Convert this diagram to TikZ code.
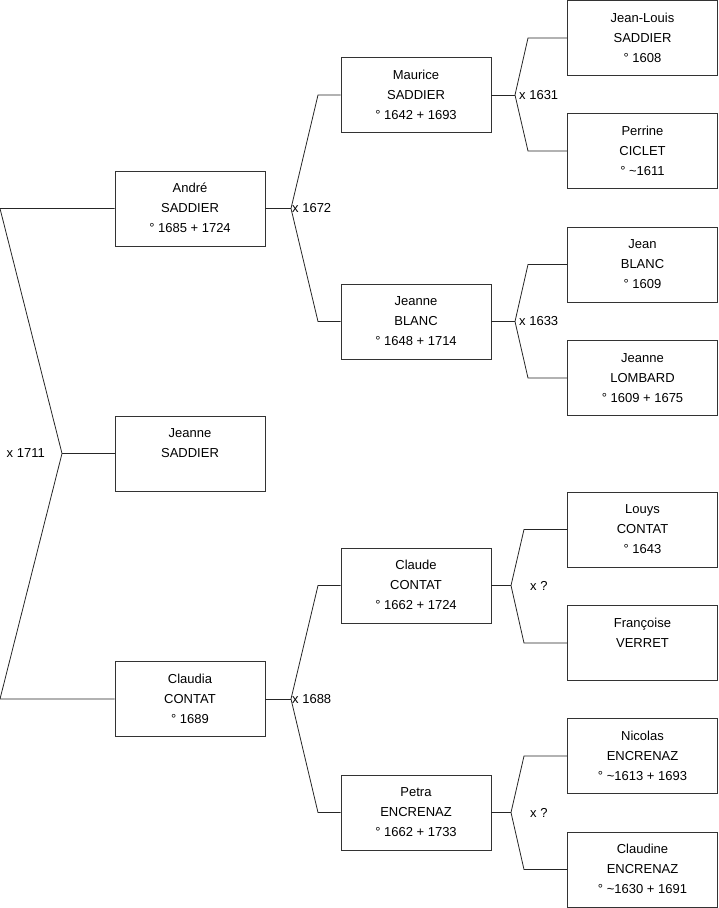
\documentclass[tikz,border=0pt]{standalone}
\usepackage{fontspec}
\setmainfont{Liberation Sans}
\usepackage{tikz}
\usetikzlibrary{positioning}
\newcommand{\fiche}[3]{#1\strut\\#2\strut\\#3\strut}

\begin{document}
\begin{tikzpicture}[
    x=1pt, y=-1pt,
    person/.style={rectangle, draw=black!80, line width=0.8pt,
        minimum width=150pt, minimum height=75pt, inner sep=0pt,
        align=center, font=\fontsize{13}{20}\selectfont},
    link/.style={draw=black!85, line width=0.8pt},
    union/.style={font=\fontsize{13}{20}\selectfont, inner sep=1pt}
]
    \useasboundingbox (0,0) rectangle (719,908);

    % generation 1
    \node[person] (andre) at (190,208.5) {\fiche{André}{SADDIER}{° 1685 + 1724}};
    \node[person] (jeanne) at (190,453.5) {\fiche{Jeanne}{SADDIER}{}};
    \node[person] (claudia) at (190,699) {\fiche{Claudia}{CONTAT}{° 1689}};
    % generation 2
    \node[person] (maurice) at (416,95) {\fiche{Maurice}{SADDIER}{° 1642 + 1693}};
    \node[person] (jeanneb) at (416,321.5) {\fiche{Jeanne}{BLANC}{° 1648 + 1714}};
    \node[person] (claude) at (416,585.5) {\fiche{Claude}{CONTAT}{° 1662 + 1724}};
    \node[person] (petra) at (416,812.5) {\fiche{Petra}{ENCRENAZ}{° 1662 + 1733}};
    % generation 3
    \node[person] (jeanlouis) at (642.5,38) {\fiche{Jean-Louis}{SADDIER}{° 1608}};
    \node[person] (perrine) at (642.5,151) {\fiche{Perrine}{CICLET}{° \textasciitilde1611}};
    \node[person] (jean) at (642.5,264.5) {\fiche{Jean}{BLANC}{° 1609}};
    \node[person] (jeannel) at (642.5,378) {\fiche{Jeanne}{LOMBARD}{° 1609 + 1675}};
    \node[person] (louys) at (642.5,529.5) {\fiche{Louys}{CONTAT}{° 1643}};
    \node[person] (francoise) at (642.5,643) {\fiche{Françoise}{VERRET}{}};
    \node[person] (nicolas) at (642.5,756) {\fiche{Nicolas}{ENCRENAZ}{° \textasciitilde1613 + 1693}};
    \node[person] (claudine) at (642.5,869.5) {\fiche{Claudine}{ENCRENAZ}{° \textasciitilde1630 + 1691}};

    % unions
    \coordinate (v0) at (62,453.5);
    \coordinate (v0a) at (0,208.5);
    \coordinate (v0b) at (0,699);
    \coordinate (v1) at (291,208.5);
    \coordinate (v1a) at (318,95);
    \coordinate (v1b) at (318,321.5);
    \coordinate (v2) at (291,699);
    \coordinate (v2a) at (318,585.5);
    \coordinate (v2b) at (318,812.5);
    \coordinate (v3) at (515,95);
    \coordinate (v3a) at (528,38);
    \coordinate (v3b) at (528,151);
    \coordinate (v4) at (515,321.5);
    \coordinate (v4a) at (528,264.5);
    \coordinate (v4b) at (528,378);
    \coordinate (v5) at (511,585.5);
    \coordinate (v5a) at (524,529.5);
    \coordinate (v5b) at (524,643);
    \coordinate (v6) at (511,812.5);
    \coordinate (v6a) at (524,756);
    \coordinate (v6b) at (524,869.5);

    \draw[link] (andre) -- (v0a) -- (v0) -- (v0b) -- (claudia);
    \draw[link] (v0) -- (jeanne);
    \draw[link] (maurice) -- (v1a) -- (v1) -- (v1b) -- (jeanneb);
    \draw[link] (andre) -- (v1);
    \draw[link] (claude) -- (v2a) -- (v2) -- (v2b) -- (petra);
    \draw[link] (claudia) -- (v2);
    \draw[link] (jeanlouis) -- (v3a) -- (v3) -- (v3b) -- (perrine);
    \draw[link] (maurice) -- (v3);
    \draw[link] (jean) -- (v4a) -- (v4) -- (v4b) -- (jeannel);
    \draw[link] (jeanneb) -- (v4);
    \draw[link] (louys) -- (v5a) -- (v5) -- (v5b) -- (francoise);
    \draw[link] (claude) -- (v5);
    \draw[link] (nicolas) -- (v6a) -- (v6) -- (v6b) -- (claudine);
    \draw[link] (petra) -- (v6);

    \node[union, left=16pt of v0] (u0) {x 1711};
    \node[union, right=0pt of v1] (u1) {x 1672};
    \node[union, right=0pt of v2] (u2) {x 1688};
    \node[union, right=3pt of v3] (u3) {x 1631};
    \node[union, right=3pt of v4] (u4) {x 1633};
    \node[union, right=18pt of v5] (u5) {x ?};
    \node[union, right=18pt of v6] (u6) {x ?};
\end{tikzpicture}
\end{document}
